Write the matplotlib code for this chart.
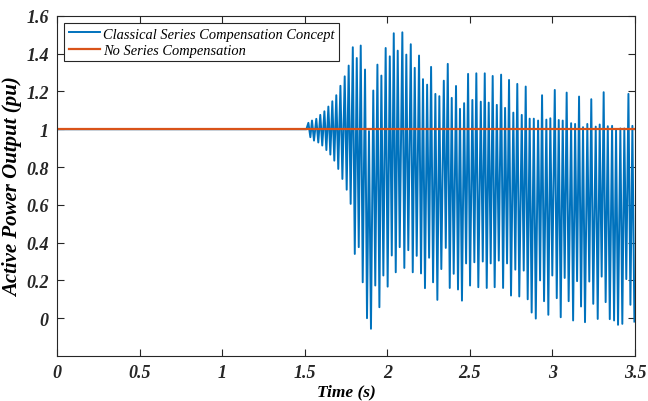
import numpy as np
import matplotlib.pyplot as plt

# Tempo e valor dos picos
peak_t = [1.522, 1.544, 1.570, 1.594, 1.619, 1.643, 1.667, 1.691, 1.716, 1.742, 1.766,
          1.791, 1.815, 1.839, 1.865, 1.889, 1.915, 1.940, 1.964, 1.990, 2.015, 2.039, 2.063,
          2.091, 2.115, 2.142, 2.166, 2.192, 2.216, 2.241, 2.265, 2.291, 2.315, 2.342, 2.366,
          2.390, 2.416, 2.440, 2.465, 2.489, 2.515, 2.539, 2.566, 2.590, 2.614, 2.638,
          2.663, 2.689, 2.713, 2.737, 2.763, 2.787, 2.814, 2.838, 2.862, 2.887, 2.913, 2.937,
          2.963, 2.987, 3.014, 3.038, 3.062, 3.086, 3.113, 3.137, 3.161, 3.185, 3.211, 3.235,
          3.262, 3.286, 3.310, 3.335, 3.361, 3.385, 3.411, 3.435, 3.460, 3.484]
peak_v = [1.034, 1.046, 1.055, 1.076, 1.095, 1.12, 1.148, 1.18, 1.23, 1.28, 1.337,
          1.434, 1.377, 1.443, 1.316, 0.99, 1.205, 1.342, 1.284, 1.43, 1.386, 1.508, 1.416,
          1.513, 1.395, 1.45, 1.325, 1.39, 1.265, 1.236, 1.33, 1.187, 1.175, 1.257, 1.346,
          1.166, 1.229, 1.108, 1.138, 1.293, 1.155, 1.296, 1.146, 1.296, 1.141, 1.282,
          1.129, 1.289, 1.113, 1.261, 1.088, 1.24, 1.076, 1.226, 1.056, 1.056, 1.046, 1.18,
          1.051, 1.058, 1.208, 1.049, 1.046, 1.194, 1.032, 1.028, 1.173, 1.011, 1.028, 1.159,
          1.014, 1.025, 1.196, 1.016, 1.018, 0.996, 1.004, 1.004, 1.187, 1.018]

# Tempo e valor dos vales
trough_t = [1.534, 1.556, 1.582, 1.606, 1.631, 1.655, 1.679, 1.703, 1.728, 1.754, 1.778,
            1.803, 1.827, 1.851, 1.877, 1.901, 1.927, 1.952, 1.976, 2.002, 2.027, 2.051, 2.075,
            2.103, 2.127, 2.154, 2.178, 2.204, 2.228, 2.253, 2.277, 2.303, 2.327, 2.354, 2.378,
            2.402, 2.428, 2.452, 2.477, 2.501, 2.527, 2.551, 2.578, 2.602, 2.626, 2.650,
            2.675, 2.701, 2.725, 2.749, 2.775, 2.799, 2.826, 2.850, 2.874, 2.899, 2.925, 2.949,
            2.975, 2.999, 3.026, 3.050, 3.074, 3.098, 3.125, 3.149, 3.173, 3.197, 3.223, 3.247,
            3.274, 3.298, 3.322, 3.347, 3.373, 3.397, 3.423, 3.447, 3.472, 3.496]
trough_v = [0.958, 0.94, 0.93, 0.914, 0.89, 0.866, 0.834, 0.79, 0.737, 0.68, 0.605,
            0.34, 0.376, 0.19, 0.0, -0.056, 0.173, 0.058, 0.226, 0.167, 0.332, 0.243, 0.376,
            0.266, 0.36, 0.243, 0.33, 0.237, 0.159, 0.32, 0.19, 0.097, 0.26, 0.372, 0.16,
            0.235, 0.152, 0.093, 0.29, 0.173, 0.296, 0.164, 0.3, 0.16, 0.29, 0.164,
            0.305, 0.16, 0.29, 0.12, 0.257, 0.115, 0.252, 0.1, 0.03, -0.002, 0.2, 0.09,
            0.018, 0.226, 0.106, 0.005, 0.213, 0.09, -0.012, 0.196, 0.062, -0.021, 0.194, 0.076,
            -0.004, 0.22, 0.085, -0.005, -0.012, -0.035, -0.03, 0.207, 0.071, -0.018]

# Regime permanente antes do disturbio
pre_t = [0, 1.51]
pre_v = [1.0, 1.0]

# Sem compensacao
flat_t = [0, 3.5]
flat_v = [1.0, 1.0]

xticks = [0, 0.5, 1, 1.5, 2, 2.5, 3, 3.5]
xlabels = ['0', '0.5', '1', '1.5', '2', '2.5', '3', '3.5']
yticks = [0, 0.2, 0.4, 0.6, 0.8, 1, 1.2, 1.4, 1.6]
ylabels = ['0', '0.2', '0.4', '0.6', '0.8', '1', '1.2', '1.4', '1.6']

# Junta picos e vales em uma serie so
osc_t = np.ravel(np.column_stack([peak_t, trough_t]))
osc_v = np.ravel(np.column_stack([peak_v, trough_v]))
t = np.concatenate([pre_t, osc_t])
p = np.concatenate([pre_v, osc_v])

plt.rcParams['font.family'] = 'Liberation Serif'

fig = plt.figure(figsize=(6.48, 4.02), dpi=100)
ax = fig.add_axes([0.088, 0.112, 0.892, 0.846])

ax.plot(t, p, color='#0072BD', linewidth=1.4, label='Classical Series Compensation Concept')
ax.plot(flat_t, flat_v, color='#D95319', linewidth=1.6, label='No Series Compensation')

ax.set_xlim(0, 3.5)
ax.set_ylim(-0.2, 1.6)
ax.set_xticks(xticks)
ax.set_xticklabels(xlabels, fontsize=13, fontweight='bold', fontstyle='italic')
ax.set_yticks(yticks)
ax.set_yticklabels(ylabels, fontsize=13, fontweight='bold', fontstyle='italic')
ax.tick_params(direction='in', top=True, right=True, length=5, width=0.8,
               color='#262626', labelcolor='#262626')
ax.tick_params(axis='x', pad=6)
ax.tick_params(axis='y', pad=6)
for s in ax.spines.values():
    s.set_color('#262626')
    s.set_linewidth(0.8)

ax.set_xlabel('Time (s)', fontsize=12.5, fontweight='bold', fontstyle='italic', labelpad=1.5)
ax.set_ylabel('Active Power Output (pu)', fontsize=15, fontweight='bold', fontstyle='italic', labelpad=2)

leg = ax.legend(loc='upper left', fontsize=10.4,
                handlelength=2.2, handletextpad=0.2, borderpad=0.3, labelspacing=0.22,
                fancybox=False, framealpha=1, borderaxespad=0.5)
leg.get_frame().set_edgecolor('#262626')
leg.get_frame().set_linewidth(0.8)
for txt in leg.get_texts():
    txt.set_fontstyle('italic')

fig.savefig('out.png', dpi=100)
